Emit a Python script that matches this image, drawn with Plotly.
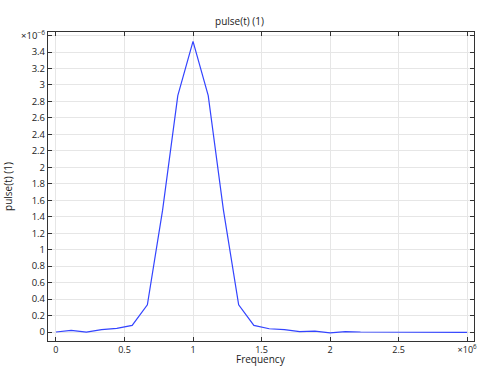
import plotly.graph_objects as go

# Frequency in units of 1e6, pulse in units of 1e-6
freq = [0, 0.111, 0.222, 0.333, 0.444, 0.556, 0.667, 0.778, 0.889, 1.0, 1.111, 1.222,
        1.333, 1.444, 1.556, 1.667, 1.778, 1.889, 2.0, 2.111, 2.222, 2.333, 2.444,
        2.556, 2.667, 2.778, 2.889, 3.0]
pulse = [0.0, 0.02, 0.0, 0.03, 0.045, 0.08, 0.33, 1.48, 2.87, 3.53, 2.87, 1.48,
         0.33, 0.08, 0.04, 0.03, 0.005, 0.01, -0.01, 0.005, 0.0, 0.0, 0.002,
         0.0, 0.0, 0.0, 0.0, -0.005]

xtick_vals = [0, 0.5, 1, 1.5, 2, 2.5, 3]
xtick_text = ["0", "0.5", "1", "1.5", "2", "2.5", "×10<sup>6</sup>"]
ytick_vals = [round(0.2 * i, 1) for i in range(19)]
ytick_text = [("%g" % v) for v in ytick_vals[:-1]] + ["×10<sup>−6</sup>"]

fig = go.Figure()
fig.add_trace(go.Scatter(x=freq, y=pulse, mode="lines",
                         line=dict(color="#3344ff", width=1.2), showlegend=False))

axis_common = dict(showline=True, linecolor="#333333", linewidth=1.2, mirror="ticks",
                   ticks="inside", ticklen=4, tickcolor="#333333", automargin=False,
                   showgrid=True, gridcolor="#e6e6e6", gridwidth=1, zeroline=False,
                   tickfont=dict(size=9.5, color="#222222"))

fig.update_layout(
    width=479, height=366,
    margin=dict(l=48, r=5, t=32, b=25, autoexpand=False),
    paper_bgcolor="white", plot_bgcolor="white",
    font=dict(family="Open Sans, DejaVu Sans, sans-serif", size=10, color="#222222"),
    title=dict(text="pulse(t) (1)", x=0.5, xanchor="center", y=0.94, yanchor="middle",
               font=dict(size=10)),
    xaxis=dict(range=[-0.058, 3.05], tickvals=xtick_vals, ticktext=xtick_text,
               tickangle=0, **{**axis_common, "tickfont": dict(size=9, color="#222222")}),
    yaxis=dict(range=[-0.109, 3.643], tickvals=ytick_vals, ticktext=ytick_text,
               title=dict(text="pulse(t) (1)", standoff=6, font=dict(size=10)), **axis_common),
    annotations=[dict(text="Frequency", xref="paper", yref="paper", x=0.5, y=0,
                      xanchor="center", yanchor="middle", yshift=-18, showarrow=False,
                      borderpad=0, font=dict(size=10))],
)

fig.write_html("out.html")
